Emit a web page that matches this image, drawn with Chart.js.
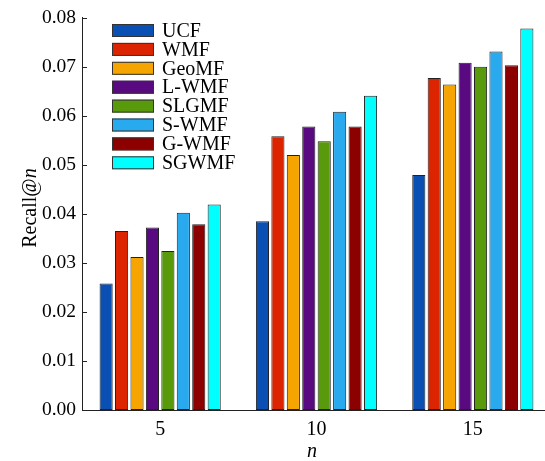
<!DOCTYPE html>
<html>
<head>
<meta charset="utf-8">
<script src="https://cdn.jsdelivr.net/npm/chart.js@4"></script>
<style>
html,body{margin:0;padding:0;background:#fff;overflow:hidden;width:545px;height:461px;}
#wrap{width:551px;height:461px;position:relative;}
</style>
</head>
<body>
<div id="wrap"><canvas id="c"></canvas></div>
<script>
const categories = ['5', '10', '15'];
const seriesNames = ['UCF', 'WMF', 'GeoMF', 'L-WMF', 'SLGMF', 'S-WMF', 'G-WMF', 'SGWMF'];
const UCF   = [0.0258, 0.0385, 0.0479];
const WMF   = [0.0365, 0.0558, 0.0677];
const GeoMF = [0.0312, 0.0520, 0.0664];
const LWMF  = [0.0372, 0.0578, 0.0708];
const SLGMF = [0.0324, 0.0548, 0.0700];
const SWMF  = [0.0402, 0.0608, 0.0731];
const GWMF  = [0.0379, 0.0578, 0.0703];
const SGWMF = [0.0419, 0.0641, 0.0778];
const yTicks = [0, 0.01, 0.02, 0.03, 0.04, 0.05, 0.06, 0.07, 0.08];
const colors = ['#0a50b4', '#dc2400', '#f5a400', '#5a0a80', '#589a0c', '#2aaaee', '#8c0000', '#00ffff'];

const seriesValues = [UCF, WMF, GeoMF, LWMF, SLGMF, SWMF, GWMF, SGWMF];
const FONT = '"Liberation Serif", "Times New Roman", serif';

const datasets = seriesNames.map((name, i) => ({
  label: name,
  data: seriesValues[i],
  backgroundColor: colors[i],
  borderColor: '#222222',
  borderWidth: 1,
  borderSkipped: false,
  categoryPercentage: 0.79,
  barPercentage: 0.85
}));

const decorPlugin = {
  id: 'decor',
  afterDraw(chart) {
    const ctx = chart.ctx;
    const ys = chart.scales.y;
    const ca = chart.chartArea;
    ctx.save();
    // inward tick marks on y axis
    ctx.strokeStyle = '#222';
    ctx.lineWidth = 1;
    yTicks.forEach(v => {
      const y = Math.round(ys.getPixelForValue(v)) + 0.5;
      ctx.beginPath();
      ctx.moveTo(ca.left, y);
      ctx.lineTo(ca.left + 5, y);
      ctx.stroke();
    });
    // legend
    const lx = 112, ly = 24, pitch = 18.9, bw = 42, bh = 13;
    ctx.font = '20px ' + FONT;
    ctx.textBaseline = 'middle';
    ctx.textAlign = 'left';
    chart.data.datasets.forEach((ds, i) => {
      const y = ly + i * pitch;
      ctx.fillStyle = ds.backgroundColor;
      ctx.fillRect(lx, y, bw, bh);
      ctx.strokeStyle = '#333';
      ctx.strokeRect(lx + 0.5, y + 0.5, bw - 1, bh - 1);
      ctx.fillStyle = '#000';
      ctx.fillText(ds.label, lx + 50, y + bh / 2 + 1);
    });
    // y axis title: Recall@n (n italic)
    ctx.save();
    ctx.translate(31, 208);
    ctx.rotate(-Math.PI / 2);
    const p1 = 'Recall@', p2 = 'n';
    ctx.font = '20px ' + FONT;
    const w1 = ctx.measureText(p1).width;
    ctx.font = 'italic 20px ' + FONT;
    const w2 = ctx.measureText(p2).width;
    const start = -(w1 + w2) / 2;
    ctx.fillStyle = '#000';
    ctx.textBaseline = 'middle';
    ctx.font = '20px ' + FONT;
    ctx.fillText(p1, start, 0);
    ctx.font = 'italic 20px ' + FONT;
    ctx.fillText(p2, start + w1, 0);
    ctx.restore();
    // x axis title
    ctx.font = 'italic 20px ' + FONT;
    ctx.textAlign = 'center';
    ctx.textBaseline = 'middle';
    ctx.fillStyle = '#000';
    ctx.fillText('n', 312, 452);
    ctx.restore();
  }
};

new Chart(document.getElementById('c'), {
  type: 'bar',
  data: { labels: categories, datasets },
  options: {
    responsive: true,
    maintainAspectRatio: false,
    animation: false,
    layout: { padding: { top: 17, right: 0, bottom: 0, left: 0 } },
    plugins: { legend: { display: false }, tooltip: { enabled: false } },
    scales: {
      x: {
        grid: { display: false, drawTicks: false },
        border: { display: true, color: '#222', width: 1 },
        ticks: { color: '#000', font: { family: FONT, size: 20 }, padding: 8 },
        afterFit(s) { s.height = 51; }
      },
      y: {
        min: 0, max: 0.08,
        afterBuildTicks(s) { s.ticks = yTicks.map(v => ({ value: v })); },
        grid: { display: false, drawTicks: false },
        border: { display: true, color: '#222', width: 1 },
        ticks: {
          color: '#000', font: { family: FONT, size: 19.5 }, padding: 6,
          callback: v => Number(v).toFixed(2)
        },
        afterFit(s) { s.width = 82; }
      }
    }
  },
  plugins: [decorPlugin]
});
</script>
</body>
</html>
